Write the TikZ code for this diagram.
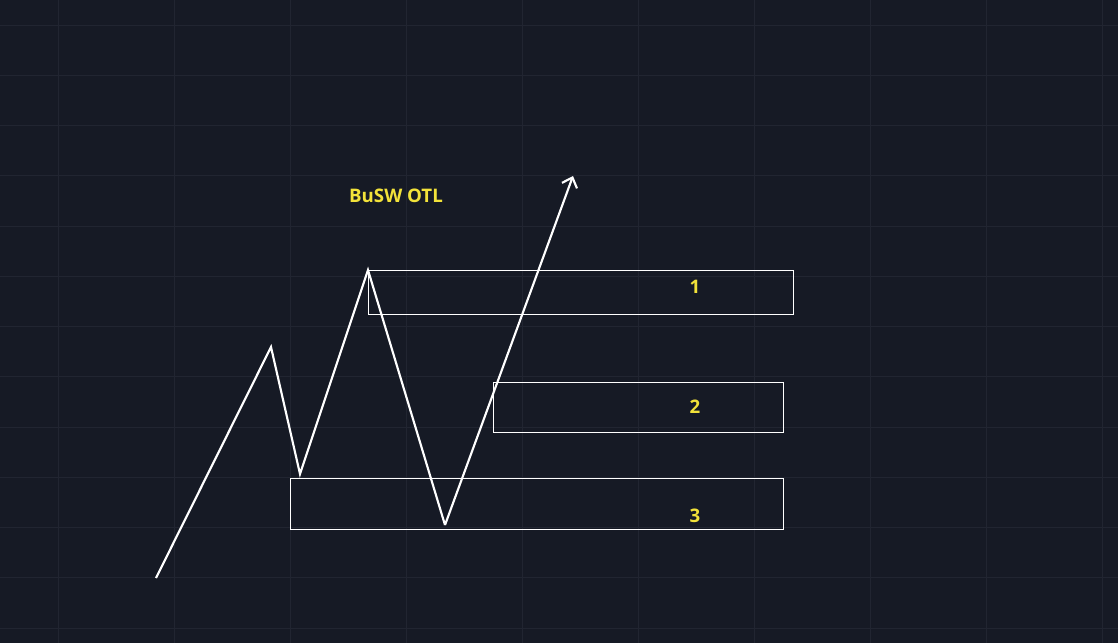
\documentclass[tikz,border=0pt]{standalone}
\usepackage{fontspec}
\setmainfont{Open Sans}
\usetikzlibrary{arrows.meta}
\definecolor{bg}{RGB}{22,26,37}
\definecolor{gridc}{RGB}{33,37,49}
\definecolor{lbl}{RGB}{242,226,58}
\def\px{0.75pt}
\tikzset{
  zone/.style={draw=white, line width=1.1pt, rectangle, inner sep=0pt, anchor=north west},
  wave/.style={draw=white, line width=1.6pt, line join=miter},
  lab/.style={text=lbl, font=\fontsize{14}{16}\selectfont\bfseries, inner sep=0pt},
  gridline/.style={draw=gridc, line width=0.75pt}
}
\begin{document}
\begin{tikzpicture}[x=0.75pt, y=-0.75pt]
\fill[bg] (0,0) rectangle (1118,643);
\useasboundingbox (0,0) rectangle (1118,643);
\foreach \i in {0,...,9} { \draw[gridline] ({58+116*\i},0) -- ({58+116*\i},643); }
\foreach \j in {0,...,12} { \draw[gridline] (0,{25+50.25*\j}) -- (1118,{25+50.25*\j}); }
% zones
\node[zone, minimum width=425*\px, minimum height=44*\px] (z1) at (368,270) {};
\node[zone, minimum width=290*\px, minimum height=50*\px] (z2) at (493,382) {};
\node[zone, minimum width=493*\px, minimum height=51*\px] (z3) at (290,478) {};
% labels
\node[lab] (l1) at (695,287) {1};
\node[lab] (l2) at (695,407) {2};
\node[lab] (l3) at (695,516) {3};
\node[lab] (title) at (396,196) {BuSW OTL};
% wave
\coordinate (s) at (156,578);
\coordinate (p1) at (271,347);
\coordinate (t1) at (300,474);
\coordinate (p2) at (368,270);
\coordinate (t2) at (445,525);
\coordinate (tip) at (573,176);
\draw[wave] (s) -- (p1) -- (t1) -- (p2) -- (t2);
\draw[wave, -{Straight Barb[length=6.5pt, width=12pt, line width=1.6pt]}] (t2) -- (tip);
\end{tikzpicture}
\end{document}
